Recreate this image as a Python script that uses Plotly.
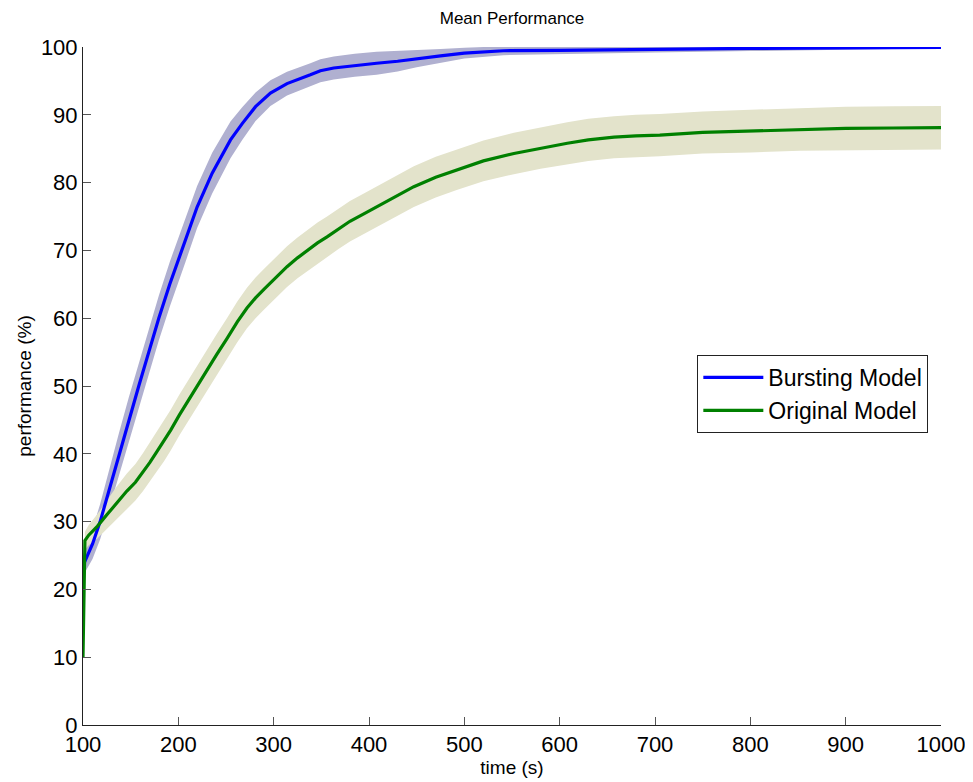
import plotly.graph_objects as go

# Bursting model (mean and standard deviation)
burst_t = [100, 104, 110, 118, 128, 138, 148, 158.5, 169, 179.5,
           191, 207.5, 219.7, 235.5, 254.7, 267, 281, 296.6, 314, 338.5,
           349, 363, 385, 408, 430, 450, 475, 500, 541, 600,
           700, 800, 900, 1000]
burst_mean = [23.5, 24.8, 26.7, 30, 35, 40, 45, 50, 55, 60,
              65, 71.5, 76.4, 81.4, 86.3, 88.7, 91.2, 93.2, 94.6, 95.9,
              96.5, 96.9, 97.3, 97.6, 97.9, 98.3, 98.7, 99.1, 99.45, 99.5,
              99.7, 99.8, 99.85, 99.95]
burst_sd = [1.5, 1.8, 2.2, 2.6, 3.0, 3.2, 3.3, 3.3, 3.3, 3.3,
            3.3, 3.2, 3.1, 3.0, 2.7, 2.4, 2.1, 1.9, 1.75, 1.7,
            1.7, 1.7, 1.7, 1.7, 1.5, 1.3, 1.0, 0.8, 0.65, 0.55,
            0.5, 0.4, 0.3, 0.15]

# Original model (mean and standard deviation)
orig_t = [100, 102, 106, 115, 125, 135, 146, 155, 163, 170,
          177, 185, 192, 201, 210, 220, 230, 240, 251, 262,
          272, 281, 290, 302, 314, 325, 335, 346, 356, 368,
          380, 396, 412, 430, 447, 470, 492, 520, 552, 580,
          608, 630, 657, 680, 705, 750, 800, 852, 900, 950,
          1000]
orig_mean = [10, 27.2, 28.0, 29.3, 31, 32.7, 34.5, 35.8, 37.3, 38.7,
             40.2, 41.9, 43.5, 45.7, 47.8, 50.1, 52.3, 54.6, 57, 59.5,
             61.5, 63.0, 64.3, 66.0, 67.6, 68.9, 70, 71.1, 72, 73.2,
             74.3, 75.5, 76.7, 78.1, 79.4, 80.8, 81.9, 83.2, 84.3, 85.1,
             85.8, 86.3, 86.7, 86.9, 87.0, 87.4, 87.6, 87.85, 88.0, 88.05,
             88.1]
orig_sd = [0.3, 1.3, 1.5, 1.8, 2.1, 2.4, 2.6, 2.7, 2.8, 2.9,
           2.9, 3.0, 3.0, 3.0, 3.0, 3.0, 3.0, 3.0, 3.0, 3.0,
           3.0, 3.0, 3.0, 3.0, 3.0, 3.0, 3.0, 3.0, 3.0, 3.0,
           3.0, 3.0, 3.0, 3.0, 3.0, 3.0, 3.0, 3.0, 3.05, 3.05,
           3.1, 3.1, 3.1, 3.1, 3.1, 3.1, 3.15, 3.15, 3.2, 3.2,
           3.2]

x_ticks = [100, 200, 300, 400, 500, 600, 700, 800, 900, 1000]
y_ticks = [0, 10, 20, 30, 40, 50, 60, 70, 80, 90, 100]

FONT = "Liberation Sans, Arial, sans-serif"


def band(t, m, s):
    up = [a + b for a, b in zip(m, s)]
    lo = [a - b for a, b in zip(m, s)]
    return list(t) + list(t)[::-1], up + lo[::-1]


fig = go.Figure()

bx, by = band(burst_t, burst_mean, burst_sd)
fig.add_trace(go.Scatter(x=bx, y=by, fill="toself", fillcolor="rgb(176,176,208)",
                         line=dict(width=0), mode="lines",
                         hoverinfo="skip", showlegend=False))
ox, oy = band(orig_t, orig_mean, orig_sd)
fig.add_trace(go.Scatter(x=ox, y=oy, fill="toself", fillcolor="rgb(227,227,203)",
                         line=dict(width=0), mode="lines",
                         hoverinfo="skip", showlegend=False))

fig.add_trace(go.Scatter(x=burst_t, y=burst_mean, mode="lines", name="Bursting Model",
                         line=dict(color="#0000ff", width=3.2)))
fig.add_trace(go.Scatter(x=orig_t, y=orig_mean, mode="lines", name="Original Model",
                         line=dict(color="#008000", width=3.2)))

# page body has an 8px margin; figure sized/margined so the plot area lands
# where the reference has it
fig.update_layout(
    width=965, height=774,
    margin=dict(l=74.5, r=32, t=39, b=57, autoexpand=False),
    paper_bgcolor="white", plot_bgcolor="white",
    font=dict(family=FONT, color="black"),
    title=dict(text="Mean Performance", x=0.5223, xanchor="center", xref="container",
               y=0.987, yanchor="middle", yref="container",
               font=dict(size=17, family=FONT)),
    legend=dict(x=0.716, y=0.5457, xanchor="left", yanchor="top",
                bordercolor="#222", borderwidth=1, bgcolor="white",
                font=dict(size=23, family=FONT), itemwidth=60, tracegroupgap=0),
    showlegend=True,
)
fig.update_xaxes(range=[100, 1000], tickvals=x_ticks, ticktext=[str(v) for v in x_ticks],
                 showline=True, linecolor="#222", linewidth=1, mirror=False,
                 ticks="inside", ticklen=8, tickcolor="#555", showgrid=False, zeroline=False,
                 tickfont=dict(size=22, family=FONT), automargin=False,
                 title=dict(text="time (s)", font=dict(size=19, family=FONT), standoff=4))
fig.update_yaxes(range=[0, 100], tickvals=y_ticks, ticktext=[str(v) for v in y_ticks],
                 showline=True, linecolor="#222", linewidth=1, mirror=False,
                 ticks="inside", ticklen=8, tickcolor="#555", showgrid=False, zeroline=False,
                 tickfont=dict(size=22, family=FONT), automargin=False,
                 title=dict(text="performance (%)", font=dict(size=19, family=FONT), standoff=4))

fig.write_html("out.html")
